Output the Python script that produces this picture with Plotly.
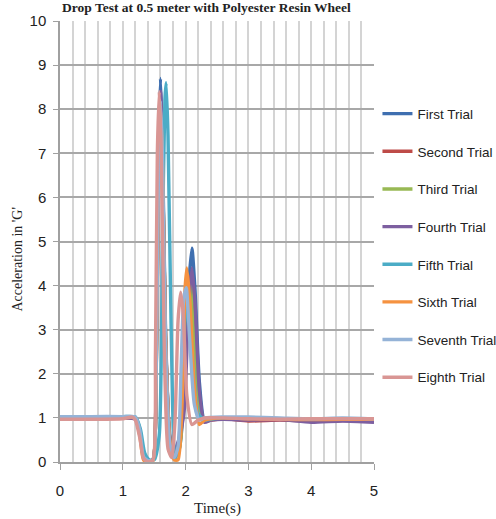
import plotly.graph_objects as go

names = ["First Trial", "Second Trial", "Third Trial", "Fourth Trial",
         "Fifth Trial", "Sixth Trial", "Seventh Trial", "Eighth Trial"]
colors = ["#3F6FB0", "#BE4B48", "#98B954", "#7D5FA0",
          "#4BACC6", "#F59240", "#95B3D7", "#D99694"]

t1 = [0, 0.5, 1.0, 1.2, 1.27, 1.33, 1.4, 1.48, 1.53, 1.57, 1.6, 1.63, 1.68, 1.75, 1.82, 1.9, 1.98, 2.04, 2.1, 2.15, 2.22, 2.3, 2.4, 2.6, 3.0, 3.5, 4.0, 4.5, 5.0]
a1 = [1.0, 1.0, 1.02, 1.0, 0.75, 0.15, 0.02, 0.05, 2.0, 7.2, 8.7, 7.4, 3.0, 0.5, 0.12, 0.3, 1.6, 3.8, 4.85, 3.9, 1.8, 0.95, 0.98, 1.0, 0.98, 0.97, 0.95, 0.95, 0.92]

t2 = [0, 0.5, 1.0, 1.2, 1.27, 1.33, 1.4, 1.48, 1.53, 1.57, 1.6, 1.63, 1.68, 1.75, 1.82, 1.9, 1.97, 2.02, 2.07, 2.12, 2.2, 2.3, 2.4, 2.6, 3.0, 3.5, 4.0, 4.5, 5.0]
a2 = [0.97, 0.98, 1.0, 0.98, 0.7, 0.12, 0.02, 0.05, 1.8, 6.9, 8.2, 7.0, 2.8, 0.5, 0.15, 0.35, 1.8, 3.6, 4.2, 3.2, 1.5, 0.93, 0.95, 0.98, 0.93, 0.95, 0.93, 0.94, 0.95]

t3 = [0, 0.5, 1.0, 1.2, 1.27, 1.33, 1.4, 1.48, 1.53, 1.57, 1.6, 1.63, 1.68, 1.75, 1.82, 1.9, 1.97, 2.02, 2.07, 2.12, 2.2, 2.3, 2.4, 2.6, 3.0, 3.5, 4.0, 4.5, 5.0]
a3 = [1.0, 1.0, 1.0, 1.0, 0.72, 0.12, 0.02, 0.05, 1.9, 7.0, 8.3, 7.1, 2.9, 0.5, 0.15, 0.3, 1.7, 3.5, 4.1, 3.1, 1.4, 0.95, 0.97, 1.0, 0.98, 0.97, 0.97, 0.96, 0.96]

t4 = [0, 0.5, 1.0, 1.2, 1.27, 1.33, 1.4, 1.48, 1.53, 1.57, 1.6, 1.63, 1.68, 1.75, 1.82, 1.9, 1.98, 2.04, 2.1, 2.15, 2.22, 2.3, 2.4, 2.6, 3.0, 3.5, 4.0, 4.5, 5.0]
a4 = [0.98, 0.98, 1.0, 0.97, 0.7, 0.15, 0.03, 0.05, 1.8, 7.0, 8.4, 7.1, 2.8, 0.6, 0.25, 0.55, 1.2, 3.3, 4.4, 3.6, 1.6, 0.9, 0.95, 0.97, 0.95, 0.96, 0.9, 0.93, 0.9]

t5 = [0, 0.5, 1.0, 1.2, 1.28, 1.35, 1.42, 1.5, 1.58, 1.63, 1.67, 1.69, 1.72, 1.77, 1.83, 1.88, 1.94, 1.99, 2.04, 2.1, 2.2, 2.3, 2.4, 2.6, 3.0, 3.5, 4.0, 4.5, 5.0]
a5 = [1.02, 1.02, 1.03, 1.02, 0.75, 0.2, 0.05, 0.05, 0.6, 4.8, 8.2, 8.6, 7.4, 3.0, 0.05, 0.3, 1.5, 3.2, 3.6, 2.6, 1.1, 0.95, 0.97, 1.0, 1.0, 0.98, 0.97, 0.97, 0.97]

t6 = [0, 0.5, 1.0, 1.2, 1.27, 1.33, 1.4, 1.48, 1.53, 1.57, 1.6, 1.63, 1.68, 1.75, 1.82, 1.88, 1.94, 1.99, 2.02, 2.07, 2.14, 2.22, 2.3, 2.4, 2.6, 3.0, 3.5, 4.0, 4.5, 5.0]
a6 = [1.0, 1.0, 1.0, 1.0, 0.6, 0.05, -0.02, 0.03, 1.7, 6.8, 8.1, 6.9, 2.8, 0.5, 0.05, 0.05, 1.2, 3.9, 4.4, 3.6, 1.7, 0.85, 0.95, 0.98, 1.0, 0.98, 0.97, 0.96, 0.97, 0.97]

t7 = [0, 0.5, 1.0, 1.2, 1.27, 1.33, 1.4, 1.48, 1.53, 1.57, 1.6, 1.63, 1.68, 1.75, 1.82, 1.88, 1.93, 1.97, 2.01, 2.06, 2.14, 2.22, 2.3, 2.6, 3.0, 3.5, 4.0, 4.5, 5.0]
a7 = [1.03, 1.03, 1.03, 1.02, 0.72, 0.12, 0.03, 0.05, 1.8, 6.9, 8.2, 7.0, 2.8, 0.4, 0.1, 0.35, 2.2, 3.7, 3.95, 2.9, 1.3, 0.95, 1.0, 1.02, 1.02, 1.0, 0.98, 1.0, 0.98]

t8 = [0, 0.5, 1.0, 1.15, 1.2, 1.27, 1.33, 1.4, 1.48, 1.52, 1.55, 1.58, 1.61, 1.66, 1.72, 1.78, 1.83, 1.88, 1.92, 1.96, 2.02, 2.1, 2.2, 2.3, 2.6, 3.0, 3.5, 4.0, 4.5, 5.0]
a8 = [0.97, 0.97, 0.98, 1.02, 0.95, 0.55, 0.08, 0.0, 0.05, 2.5, 7.0, 8.4, 7.2, 2.6, 0.3, 0.1, 0.9, 3.2, 3.85, 3.4, 1.5, 0.85, 0.95, 1.0, 1.0, 0.98, 0.97, 0.98, 0.98, 0.98]

series_t = [t1, t2, t3, t4, t5, t6, t7, t8]
series_a = [a1, a2, a3, a4, a5, a6, a7, a8]

x_ticks = [0, 1, 2, 3, 4, 5]
y_ticks = [0, 1, 2, 3, 4, 5, 6, 7, 8, 9, 10]

fig = go.Figure()
for i, (nm, c) in enumerate(zip(names, colors)):
    fig.add_trace(go.Scatter(
        x=series_t[i], y=series_a[i], mode="lines", name=nm,
        legendgroup=nm,
        line=dict(color=c, width=3.4, shape="spline", smoothing=0.6),
    ))

tick_font = dict(family="Liberation Sans Narrow, Arial Narrow, sans-serif", size=15, color="#222")

fig.update_layout(
    width=496, height=519,
    margin=dict(l=60, r=122, t=21, b=57, autoexpand=False),
    paper_bgcolor="white", plot_bgcolor="white",
    showlegend=True,
    legend=dict(
        x=1.011, xanchor="left", y=0.8245, yanchor="top",
        font=dict(family="Liberation Sans, Arial, sans-serif", size=13.5, color="#222"),
        tracegroupgap=17.1, itemwidth=30, bgcolor="rgba(0,0,0,0)",
    ),
    xaxis=dict(
        range=[0, 5], tickvals=x_ticks, ticktext=[str(v) for v in x_ticks],
        showgrid=True, gridcolor="#D4D4D4", gridwidth=1.5,
        minor=dict(dtick=0.2, showgrid=True, gridcolor="#D4D4D4", gridwidth=1.5),
        ticks="outside", ticklen=6, tickcolor="#A0A0A0",
        showline=True, linecolor="#A0A0A0", linewidth=1.5,
        tickfont=tick_font, zeroline=False, automargin=False,
        ticklabelstandoff=8,
    ),
    yaxis=dict(
        range=[0, 10], tickvals=y_ticks, ticktext=[str(v) for v in y_ticks],
        showgrid=True, gridcolor="#A8A8A8", gridwidth=1.5,
        ticks="outside", ticklen=5, tickcolor="#A0A0A0",
        showline=True, linecolor="#A0A0A0", linewidth=1.5,
        tickfont=tick_font, zeroline=False, automargin=False,
        ticklabelstandoff=4,
    ),
)

axis_title_font = dict(family="Liberation Serif, Times New Roman, serif", size=15, color="#222")
fig.add_annotation(
    text="Time(s)", xref="paper", yref="paper", x=0.5, y=0, yshift=-46,
    xanchor="center", yanchor="middle", showarrow=False, font=axis_title_font,
)
fig.add_annotation(
    text="Acceleration in 'G'", xref="paper", yref="paper", x=0, xshift=-42, y=0.459,
    xanchor="center", yanchor="middle", textangle=-90, showarrow=False,
    font=dict(family="Liberation Serif, Times New Roman, serif", size=14, color="#222"),
)

fig.add_annotation(
    text="<b>Drop Test at 0.5 meter with Polyester Resin Wheel</b>",
    xref="paper", yref="paper", x=0.0, y=1.0 + 23 / 441, xanchor="left", yanchor="top",
    showarrow=False,
    font=dict(family="Liberation Serif, Times New Roman, serif", size=13.5, color="#222"),
)

fig.write_html("out.html", config={"displayModeBar": False},
               post_script="document.body.style.margin='0px';")
